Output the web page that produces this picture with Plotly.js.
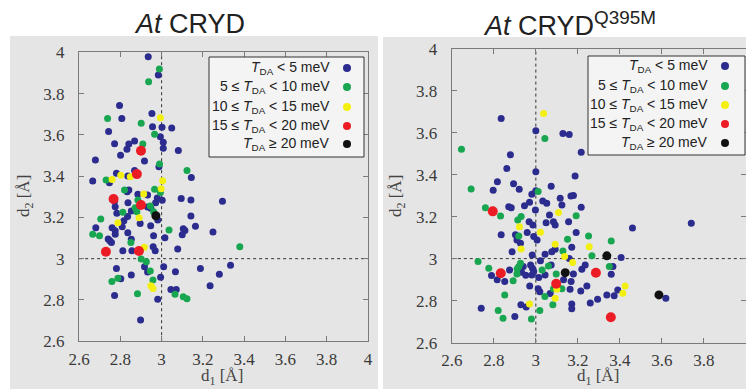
<!DOCTYPE html>
<html><head><meta charset="utf-8">
<script src="https://cdn.plot.ly/plotly-3.0.1.min.js"></script>
<style>html,body{margin:0;padding:0;background:#fff}#chart{width:746px;height:389px}</style>
</head><body><div id="chart"></div>
<script>
// ---- data ----
const panelTitles = ['<i>At</i> CRYD', '<i>At</i> CRYD<sup>Q395M</sup>'];
const categories = [
  '<i>T</i><sub>DA</sub> &lt; 5 meV',
  '5 ≤ <i>T</i><sub>DA</sub> &lt; 10 meV',
  '10 ≤ <i>T</i><sub>DA</sub> &lt; 15 meV',
  '15 ≤ <i>T</i><sub>DA</sub> &lt; 20 meV',
  '<i>T</i><sub>DA</sub> ≥ 20 meV'
];
const tickVals = [2.6, 2.8, 3.0, 3.2, 3.4, 3.6, 3.8, 4.0];

// AtCRYD (left)
const wtBlueD1 = [2.935,2.984,2.796,2.807,2.953,2.956,3.002,3.049,2.743,2.994,3.008,2.772,2.841,2.869,3.008,2.832,3.081,2.801,2.679,2.917,2.987,2.781,2.869,2.666,2.747,3.144,2.833,2.841,2.885,2.932,2.979,3.003,3.095,3.142,3.295,2.772,2.837,2.971,2.932,2.948,2.775,2.783,2.835,2.817,2.809,2.981,2.896,2.947,3.142,3.164,2.760,2.681,2.775,3.105,3.113,3.100,3.249,3.016,2.961,2.741,2.749,2.757,2.812,2.856,2.853,2.959,2.969,3.078,2.917,3.010,2.781,3.334,3.188,2.932,3.067,2.853,3.280,2.802,2.995,3.235,3.045,3.071,2.772,2.981,2.898,2.836,2.853,2.775,2.836];
const wtBlueD2 = [3.979,3.890,3.743,3.680,3.704,3.640,3.637,3.633,3.616,3.591,3.564,3.557,3.556,3.570,3.535,3.530,3.525,3.502,3.478,3.473,3.446,3.414,3.427,3.376,3.368,3.393,3.325,3.333,3.312,3.309,3.294,3.283,3.292,3.284,3.278,3.278,3.271,3.271,3.250,3.244,3.252,3.220,3.204,3.184,3.155,3.187,3.171,3.160,3.207,3.157,3.150,3.150,3.136,3.145,3.137,3.116,3.129,3.102,3.111,3.095,3.087,3.079,3.039,3.039,3.094,3.058,3.039,3.047,2.961,2.961,2.952,2.968,2.952,2.935,2.937,2.921,2.924,2.903,2.910,2.869,2.851,2.851,2.821,2.803,2.703,3.401,3.231,3.118,3.126];
const wtGreenD1 = [2.989,2.937,2.738,2.901,2.966,2.909,2.990,3.123,2.731,2.820,2.966,2.994,2.885,2.945,2.872,2.880,2.812,2.961,2.705,3.036,2.666,2.699,2.851,3.379,2.901,2.926,2.945,2.958,2.788,2.759,2.883,3.065,3.105,3.123];
const wtGreenD2 = [3.919,3.858,3.680,3.656,3.603,3.556,3.459,3.427,3.381,3.333,3.336,3.321,3.284,3.255,3.247,3.228,3.225,3.228,3.192,3.139,3.118,3.111,3.078,3.058,2.998,2.985,2.940,2.897,2.905,2.889,2.830,2.827,2.816,2.806];
const wtYellowD1 = [2.994,2.760,2.802,2.848,3.005,2.998,2.913,2.891,2.788,2.916,2.948,2.958];
const wtYellowD2 = [3.683,3.384,3.405,3.397,3.378,3.339,3.313,3.199,3.174,3.055,2.869,2.855];
const wtRedD1 = [2.900,2.880,2.767,2.900,2.730,2.890];
const wtRedD2 = [3.523,3.410,3.289,3.260,3.034,3.037];
const wtBlackD1 = [2.972];
const wtBlackD2 = [3.208];

// AtCRYD Q395M (right)
const mutBlueD1 = [2.835,3.000,3.129,3.159,3.216,2.879,2.862,3.000,3.187,2.817,2.894,3.073,2.797,2.921,2.981,3.000,3.116,3.167,3.179,3.033,3.052,2.970,2.946,2.871,2.883,3.124,3.216,2.998,3.065,2.968,2.986,3.049,3.084,3.092,3.156,2.835,2.903,2.959,2.990,3.006,3.192,2.927,3.171,2.887,2.983,3.044,3.076,3.092,3.022,3.406,3.159,3.235,3.219,3.367,3.359,3.179,3.132,3.168,2.975,2.984,2.990,2.981,2.940,2.917,2.789,2.816,2.852,2.875,2.932,3.014,2.952,3.044,2.971,3.011,3.019,3.068,3.163,3.214,3.243,3.390,3.373,3.338,3.294,3.259,3.171,3.171,2.929,2.954,2.740,2.900,3.460,3.740,3.619,3.073,2.910];
const mutBlueD2 = [3.667,3.609,3.596,3.591,3.506,3.494,3.429,3.414,3.393,3.366,3.357,3.345,3.325,3.330,3.307,3.323,3.287,3.298,3.300,3.274,3.263,3.268,3.252,3.247,3.242,3.255,3.244,3.231,3.208,3.176,3.160,3.171,3.176,3.160,3.176,3.113,3.113,3.124,3.105,3.089,3.124,3.073,3.054,3.033,3.017,3.021,3.033,3.044,2.990,3.005,3.000,2.970,2.949,2.962,2.926,2.927,2.899,2.891,2.970,2.954,2.938,2.922,2.962,2.957,2.919,2.899,2.891,2.946,2.935,2.910,2.921,2.922,2.870,2.856,2.842,2.834,2.854,2.846,2.870,2.851,2.823,2.827,2.807,2.788,2.784,2.761,2.780,2.769,2.764,2.724,3.146,3.168,2.811,2.970,3.089];
const mutGreenD1 = [2.646,2.692,2.760,2.832,3.043,3.011,2.930,2.914,2.919,3.192,3.251,3.151,3.359,3.129,3.267,2.725,2.927,2.919,2.911,3.030,2.776,3.060,3.350,2.892,2.910,3.097,3.084,3.124,2.852,3.043,3.081,2.821,3.019,2.844,2.979];
const mutGreenD2 = [3.521,3.331,3.242,3.203,3.572,3.319,3.200,3.184,3.108,3.204,3.108,3.092,3.084,3.036,3.013,2.986,2.978,2.962,2.951,2.946,2.954,2.965,2.962,2.894,2.927,2.927,2.857,2.857,2.827,2.819,2.780,2.753,2.753,2.716,2.712];
const mutYellowD1 = [3.037,2.922,3.022,3.108,2.930,3.092,3.254,3.137,3.175,3.100,3.092,2.970,3.425,3.414];
const mutYellowD2 = [3.691,3.152,3.125,3.219,3.046,3.068,3.057,3.010,2.981,2.854,2.811,2.784,2.870,2.835];
const mutRedD1 = [2.795,2.833,3.097,3.286,3.357];
const mutRedD2 = [3.225,2.930,2.880,2.933,2.721];
const mutBlackD1 = [3.338,3.140,3.586];
const mutBlackD2 = [3.013,2.933,2.827];

// ---- styles ----
const colors = ['#2b2c8e', '#18a650', '#f3ef10', '#ec1c24', '#111111'];
const sizes = [7, 7, 7, 10, 9];
const W = 746, H = 389;
const px = v => v / W, py = v => 1 - v / H;

const panels = [
  {xa: 'x', ya: 'y', sets: [[wtBlueD1, wtBlueD2], [wtGreenD1, wtGreenD2], [wtYellowD1, wtYellowD2], [wtRedD1, wtRedD2], [wtBlackD1, wtBlackD2]]},
  {xa: 'x2', ya: 'y2', sets: [[mutBlueD1, mutBlueD2], [mutGreenD1, mutGreenD2], [mutYellowD1, mutYellowD2], [mutRedD1, mutRedD2], [mutBlackD1, mutBlackD2]]}
];

const traces = [];
panels.forEach(p => {
  p.sets.forEach((s, i) => {
    traces.push({
      type: 'scatter', mode: 'markers', x: s[0], y: s[1],
      xaxis: p.xa, yaxis: p.ya, name: categories[i], showlegend: false,
      marker: {color: colors[i], size: sizes[i], line: {width: 0}},
      hoverinfo: 'x+y'
    });
  });
});

function axis(domain, anchor, standoff) {
  return {
    domain: domain, anchor: anchor, range: [2.5995, 4.0005],
    tickvals: tickVals, ticks: 'inside', ticklen: 5, tickcolor: '#7a7a7a', tickwidth: 1,
    showline: true, linecolor: '#7a7a7a', linewidth: 1, mirror: 'ticks',
    showgrid: false, zeroline: false, ticklabelstandoff: standoff,
    tickfont: {family: 'Liberation Serif, serif', size: 17, color: '#3a3a3a'}
  };
}

const shapes = [
  // panel backgrounds
  {type: 'rect', xref: 'paper', yref: 'paper', x0: px(10), x1: px(378), y0: 0, y1: py(36), fillcolor: '#e5e5e5', line: {width: 0}, layer: 'below'},
  {type: 'rect', xref: 'paper', yref: 'paper', x0: px(383), x1: 1, y0: 0, y1: py(37), fillcolor: '#e5e5e5', line: {width: 0}, layer: 'below'},
];
// reference lines at d = 3 Å
[['x', 'y'], ['x2', 'y2']].forEach(r => {
  shapes.push({type: 'line', xref: r[0], yref: r[1], x0: 3, x1: 3, y0: 2.6, y1: 4, line: {color: '#333', width: 1, dash: '3px,3px'}, layer: 'below'});
  shapes.push({type: 'line', xref: r[0], yref: r[1], x0: 2.6, x1: 4, y0: 3, y1: 3, line: {color: '#333', width: 1, dash: '3px,3px'}, layer: 'below'});
});

const annotations = [];
// legend boxes
const legends = [
  {box: [209, 364, 57, 157], textRight: 332, marker: 347, rows: [68, 87, 107, 126, 144]},
  {box: [588, 745, 56, 155], textRight: 710, marker: 725, rows: [66, 86, 105, 124, 143]}
];
legends.forEach(L => {
  shapes.push({type: 'rect', xref: 'paper', yref: 'paper', x0: px(L.box[0]), x1: px(L.box[1]), y0: py(L.box[3]), y1: py(L.box[2]), fillcolor: '#f4f4f4', line: {color: '#333', width: 1}, layer: 'above'});
  L.rows.forEach((ry, i) => {
    annotations.push({xref: 'paper', yref: 'paper', x: px(L.textRight), y: py(ry), xanchor: 'right', yanchor: 'middle', showarrow: false, text: categories[i], font: {family: 'Liberation Sans, Arial, sans-serif', size: 14, color: '#222'}});
    shapes.push({type: 'circle', xref: 'paper', yref: 'paper', xsizemode: 'pixel', ysizemode: 'pixel', xanchor: px(L.marker), yanchor: py(ry), x0: -4, x1: 4, y0: -4, y1: 4, fillcolor: colors[i], line: {width: 0}, layer: 'above'});
  });
});

// panel titles
annotations.push({xref: 'paper', yref: 'paper', x: px(189), y: py(24), xanchor: 'center', yanchor: 'middle', showarrow: false, text: panelTitles[0], font: {family: 'Liberation Sans, Arial, sans-serif', size: 27, color: '#222'}});
annotations.push({xref: 'paper', yref: 'paper', x: px(569), y: py(24), xanchor: 'center', yanchor: 'middle', showarrow: false, text: panelTitles[1], font: {family: 'Liberation Sans, Arial, sans-serif', size: 27, color: '#222'}});
// axis titles
const axFont = {family: 'Liberation Serif, serif', size: 17, color: '#444'};
[[25, 196, 222, 377], [397, 196, 598, 377]].forEach(a => {
  annotations.push({xref: 'paper', yref: 'paper', x: px(a[0]), y: py(a[1]), xanchor: 'center', yanchor: 'middle', textangle: -90, showarrow: false, borderpad: 0, text: 'd<sub>2</sub> [Å]', font: axFont});
  annotations.push({xref: 'paper', yref: 'paper', x: px(a[2]), y: py(a[3]), xanchor: 'center', yanchor: 'middle', showarrow: false, borderpad: 0, text: 'd<sub>1</sub> [Å]', font: axFont});
});

const layout = {
  width: W, height: H, margin: {l: 0, r: 0, t: 0, b: 0},
  paper_bgcolor: '#ffffff', plot_bgcolor: 'rgba(0,0,0,0)',
  showlegend: false,
  xaxis: axis([79 / W, 368 / W], 'y', 2),
  yaxis: axis([47.7 / H, 336.7 / H], 'x', 10),
  xaxis2: axis([451.7 / W, 1], 'y2', 2),
  yaxis2: axis([46.3 / H, 340.5 / H], 'x2', 10),
  shapes: shapes, annotations: annotations
};

Plotly.newPlot('chart', traces, layout, {displayModeBar: false, staticPlot: true});
</script>
</body></html>
